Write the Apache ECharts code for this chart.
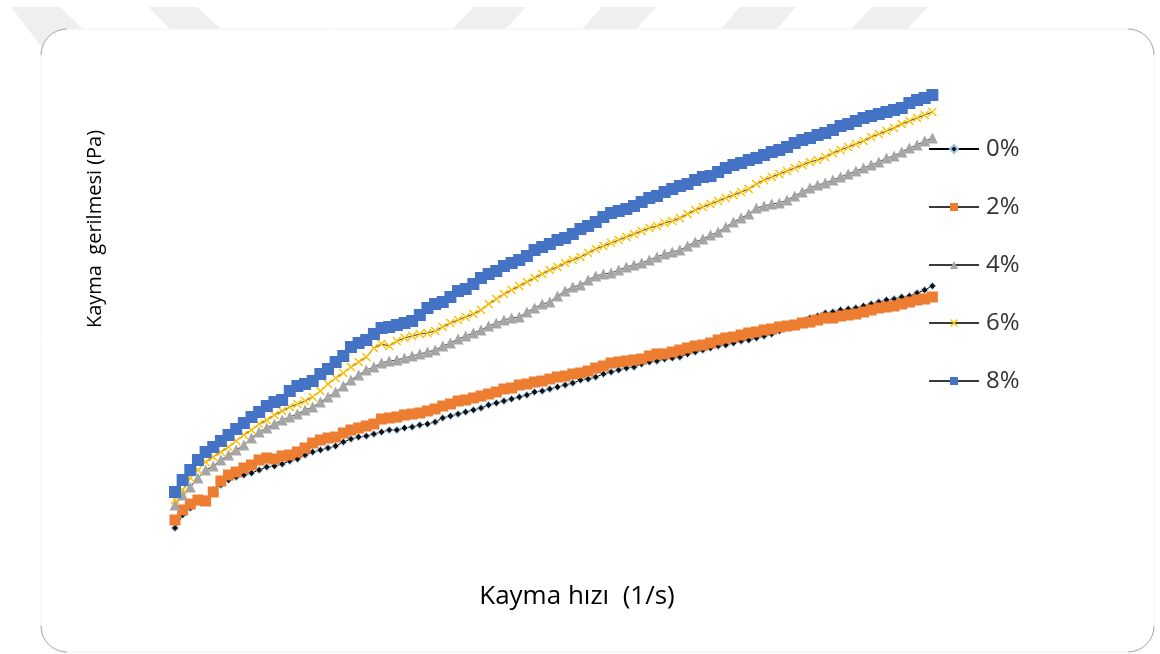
<!DOCTYPE html>
<html>
<head>
<meta charset="utf-8">
<title>Kayma gerilmesi</title>
<script src="https://cdn.jsdelivr.net/npm/echarts@6/dist/echarts.min.js"></script>
<style>
  html, body { margin: 0; padding: 0; background: #ffffff; }
  #chart { width: 1160px; height: 654px; }
</style>
</head>
<body>
<div id="chart"></div>
<script>
// Shear rate (1/s) and shear stress (Pa) per additive ratio
const shearRate = [
  1, 2, 3, 4, 5, 6, 7, 8, 9, 10,
  11, 12, 13, 14, 15, 16, 17, 18, 19, 20,
  21, 22, 23, 24, 25, 26, 27, 28, 29, 30,
  31, 32, 33, 34, 35, 36, 37, 38, 39, 40,
  41, 42, 43, 44, 45, 46, 47, 48, 49, 50,
  51, 52, 53, 54, 55, 56, 57, 58, 59, 60,
  61, 62, 63, 64, 65, 66, 67, 68, 69, 70,
  71, 72, 73, 74, 75, 76, 77, 78, 79, 80,
  81, 82, 83, 84, 85, 86, 87, 88, 89, 90,
  91, 92, 93, 94, 95, 96, 97, 98, 99, 100
];

const stress0 = [
  3.2, 4.5, 5.2, 5.8, 6.1, 7.0, 7.5, 8.0, 8.3, 8.5,
  8.7, 9.0, 9.3, 9.4, 9.6, 9.9, 10.1, 10.5, 10.8, 11.0,
  11.2, 11.4, 11.8, 12.1, 12.3, 12.4, 12.6, 12.8, 13.0, 13.0,
  13.2, 13.3, 13.5, 13.6, 13.8, 14.2, 14.4, 14.6, 14.8, 15.0,
  15.2, 15.5, 15.7, 15.9, 16.1, 16.3, 16.5, 16.8, 16.9, 17.1,
  17.3, 17.5, 17.7, 18.0, 18.1, 18.3, 18.6, 18.8, 19.0, 19.2,
  19.3, 19.6, 19.8, 19.9, 20.1, 20.2, 20.3, 20.6, 20.8, 21.0,
  21.2, 21.4, 21.5, 21.7, 21.9, 22.0, 22.2, 22.4, 22.6, 22.9,
  23.3, 23.6, 23.9, 24.2, 24.4, 24.7, 24.8, 25.0, 25.1, 25.2,
  25.4, 25.6, 25.8, 26.0, 26.1, 26.3, 26.4, 26.7, 27.0, 27.4
];

const stress2 = [
  4.0, 5.0, 5.6, 6.0, 5.9, 6.8, 7.9, 8.5, 8.8, 9.2,
  9.5, 10.0, 10.2, 10.1, 10.4, 10.5, 10.8, 11.2, 11.7, 12.0,
  12.2, 12.3, 12.7, 13.0, 13.2, 13.4, 13.6, 14.1, 14.2, 14.3,
  14.5, 14.6, 14.7, 14.9, 15.1, 15.4, 15.6, 15.9, 16.0, 16.2,
  16.4, 16.6, 16.8, 17.1, 17.2, 17.5, 17.6, 17.8, 17.9, 18.1,
  18.3, 18.4, 18.6, 18.7, 18.9, 19.2, 19.4, 19.7, 19.8, 19.9,
  20.0, 20.1, 20.4, 20.6, 20.6, 20.8, 21.0, 21.2, 21.4, 21.5,
  21.7, 22.0, 22.2, 22.3, 22.5, 22.7, 22.8, 23.0, 23.1, 23.3,
  23.4, 23.5, 23.7, 23.8, 24.0, 24.2, 24.2, 24.4, 24.5, 24.6,
  24.8, 25.0, 25.2, 25.3, 25.4, 25.6, 25.8, 26.0, 26.1, 26.3
];

const stress4 = [
  5.5, 6.5, 7.3, 8.2, 9.0, 9.4, 10.0, 10.5, 11.0, 11.5,
  12.2, 12.8, 13.2, 13.6, 14.0, 14.3, 14.6, 15.0, 15.3, 15.8,
  16.3, 16.8, 17.4, 18.0, 18.5, 19.0, 19.3, 19.7, 19.9, 20.0,
  20.2, 20.4, 20.6, 20.8, 21.0, 21.4, 21.7, 22.1, 22.4, 22.7,
  23.0, 23.4, 23.7, 24.0, 24.2, 24.3, 24.8, 25.2, 25.6, 25.8,
  26.4, 26.9, 27.3, 27.5, 28.0, 28.4, 28.6, 28.7, 29.0, 29.3,
  29.5, 29.7, 30.0, 30.3, 30.6, 30.8, 31.0, 31.4, 31.8, 32.1,
  32.5, 32.8, 33.3, 33.8, 34.2, 34.6, 35.2, 35.4, 35.6, 35.7,
  36.0, 36.4, 36.8, 37.2, 37.5, 37.7, 38.0, 38.3, 38.6, 38.9,
  39.2, 39.5, 39.8, 40.2, 40.4, 40.8, 41.2, 41.5, 41.9, 42.2
];

const stress6 = [
  6.0, 7.0, 8.2, 9.0, 9.8, 10.3, 10.8, 11.3, 11.9, 12.5,
  13.0, 13.6, 14.0, 14.5, 14.9, 15.3, 15.6, 15.9, 16.3, 16.9,
  17.6, 18.2, 18.7, 19.3, 19.8, 20.3, 21.2, 21.6, 21.4, 21.9,
  22.2, 22.4, 22.6, 22.7, 22.9, 23.3, 23.7, 24.0, 24.3, 24.6,
  25.0, 25.6, 26.1, 26.6, 27.0, 27.4, 27.8, 28.2, 28.6, 29.0,
  29.3, 29.7, 30.0, 30.3, 30.7, 31.1, 31.4, 31.7, 32.0, 32.3,
  32.6, 32.9, 33.2, 33.4, 33.7, 33.9, 34.2, 34.6, 35.0, 35.3,
  35.6, 35.9, 36.2, 36.5, 36.8, 37.1, 37.6, 38.0, 38.3, 38.6,
  38.9, 39.2, 39.5, 39.8, 40.0, 40.3, 40.7, 41.0, 41.3, 41.6,
  41.9, 42.3, 42.6, 42.9, 43.2, 43.6, 43.9, 44.2, 44.5, 44.8
];

const stress8 = [
  6.8, 8.0, 9.0, 10.0, 10.8, 11.3, 11.9, 12.5, 13.1, 13.7,
  14.3, 14.8, 15.4, 15.8, 16.0, 16.9, 17.4, 17.6, 17.9, 18.6,
  19.1, 19.8, 20.4, 21.3, 21.7, 22.0, 22.6, 23.2, 23.3, 23.5,
  23.7, 23.9, 24.5, 25.2, 25.6, 25.8, 26.3, 26.9, 27.1, 27.6,
  28.2, 28.6, 28.9, 29.4, 29.7, 30.0, 30.4, 31.0, 31.3, 31.6,
  32.0, 32.2, 32.6, 33.1, 33.4, 33.8, 34.3, 34.7, 34.9, 35.1,
  35.4, 35.8, 36.2, 36.4, 36.8, 37.1, 37.4, 37.6, 38.0, 38.3,
  38.4, 38.8, 39.2, 39.5, 39.7, 40.0, 40.2, 40.5, 40.8, 41.0,
  41.3, 41.7, 42.0, 42.2, 42.5, 42.7, 43.0, 43.4, 43.6, 43.9,
  44.2, 44.4, 44.6, 44.8, 45.0, 45.2, 45.7, 46.0, 46.2, 46.5
];

const seriesNames = ['0%', '2%', '4%', '6%', '8%'];
const xTitle = 'Kayma hızı  (1/s)';
const yTitle = 'Kayma  gerilmesi (Pa)';

const pairs = (ys) => shearRate.map((x, i) => [x, ys[i]]);

const crossSymbol = 'path://M0,1.2L1.2,0L5,3.8L8.8,0L10,1.2L6.2,5L10,8.8L8.8,10L5,6.2L1.2,10L0,8.8L3.8,5Z';
const lineColor = '#3a3a3a';

function makeSeries(name, ys, symbol, size, itemStyle, lineStyle) {
  return {
    name: name,
    type: 'line',
    data: pairs(ys),
    symbol: symbol,
    symbolSize: size,
    showSymbol: true,
    itemStyle: itemStyle,
    lineStyle: lineStyle || { color: lineColor, width: 1 },
    emphasis: { disabled: true },
    silent: true
  };
}

// page decoration: light slanted stripes above a rounded card
const stripes = [
  [[11, 7], [60, 7], [110, 55], [48, 55]],
  [[149, 7], [197, 7], [221, 29], [170, 29]],
  [[474, 7], [526, 7], [506, 29], [452, 29]],
  [[602, 7], [656, 7], [636, 29], [582, 29]],
  [[740, 7], [796, 7], [777, 29], [721, 29]],
  [[872, 7], [928, 7], [907, 29], [851, 29]]
].map(pts => ({
  type: 'polygon', z: -30, silent: true,
  shape: { points: pts },
  style: { fill: '#efefef' }
}));

const card = { x: 41, y: 29, w: 1113, h: 623, r: 26 };
const cornerArcs = [
  { cx: card.x + card.r, cy: card.y + card.r, s: Math.PI, e: Math.PI * 1.5 },
  { cx: card.x + card.w - card.r, cy: card.y + card.r, s: Math.PI * 1.5, e: Math.PI * 2 },
  { cx: card.x + card.w - card.r, cy: card.y + card.h - card.r, s: 0, e: Math.PI * 0.5 },
  { cx: card.x + card.r, cy: card.y + card.h - card.r, s: Math.PI * 0.5, e: Math.PI }
].map(a => ({
  type: 'arc', z: -10, silent: true,
  shape: { cx: a.cx, cy: a.cy, r: card.r, startAngle: a.s, endAngle: a.e, clockwise: true },
  style: { stroke: '#a8a8a8', lineWidth: 1, fill: null }
}));

const chart = echarts.init(document.getElementById('chart'), null, { renderer: 'canvas' });

chart.setOption({
  animation: false,
  backgroundColor: '#ffffff',
  grid: { left: 167.35, top: 60, width: 765, height: 500, containLabel: false },
  xAxis: {
    type: 'value', min: 0, max: 100,
    axisLine: { show: false }, axisTick: { show: false },
    axisLabel: { show: false }, splitLine: { show: false }
  },
  yAxis: {
    type: 'value', min: 0, max: 50,
    axisLine: { show: false }, axisTick: { show: false },
    axisLabel: { show: false }, splitLine: { show: false }
  },
  legend: {
    orient: 'vertical',
    left: 923,
    top: 132,
    itemWidth: 50,
    itemHeight: 10,
    itemGap: 34,
    data: seriesNames,
    selectedMode: false,
    textStyle: { fontFamily: 'Open Sans', fontSize: 24, color: '#333333', padding: [0, 0, 0, 2] }
  },
  graphic: [
    ...stripes,
    {
      type: 'rect', z: -20, silent: true,
      shape: { x: card.x, y: card.y, width: card.w, height: card.h, r: card.r },
      style: { fill: '#ffffff', stroke: '#f1f1f1', lineWidth: 1 }
    },
    ...cornerArcs,
    {
      type: 'text', z: 10, silent: true,
      x: 95, y: 229, rotation: Math.PI / 2,
      style: {
        text: yTitle, fontFamily: 'Open Sans', fontSize: 20, fill: '#000000',
        textAlign: 'center', textVerticalAlign: 'middle', verticalAlign: 'middle'
      }
    },
    {
      type: 'text', z: 10, silent: true,
      x: 577, y: 597,
      style: {
        text: xTitle, fontFamily: 'Open Sans', fontSize: 26, fill: '#000000',
        textAlign: 'center', textVerticalAlign: 'middle', verticalAlign: 'middle'
      }
    }
  ],
  series: [
    makeSeries('0%', stress0, 'diamond', 7,
      { color: '#111111', borderColor: '#9dc3e6', borderWidth: 1 },
      { color: '#000000', width: 1 }),
    makeSeries('2%', stress2, 'rect', 11, { color: '#ed7d31' }),
    makeSeries('4%', stress4, 'triangle', 11, { color: '#a5a5a5' }),
    makeSeries('6%', stress6, crossSymbol, 9, { color: '#ffc000' }),
    makeSeries('8%', stress8, 'rect', 12, { color: '#4472c4' })
  ]
});
</script>
</body>
</html>
